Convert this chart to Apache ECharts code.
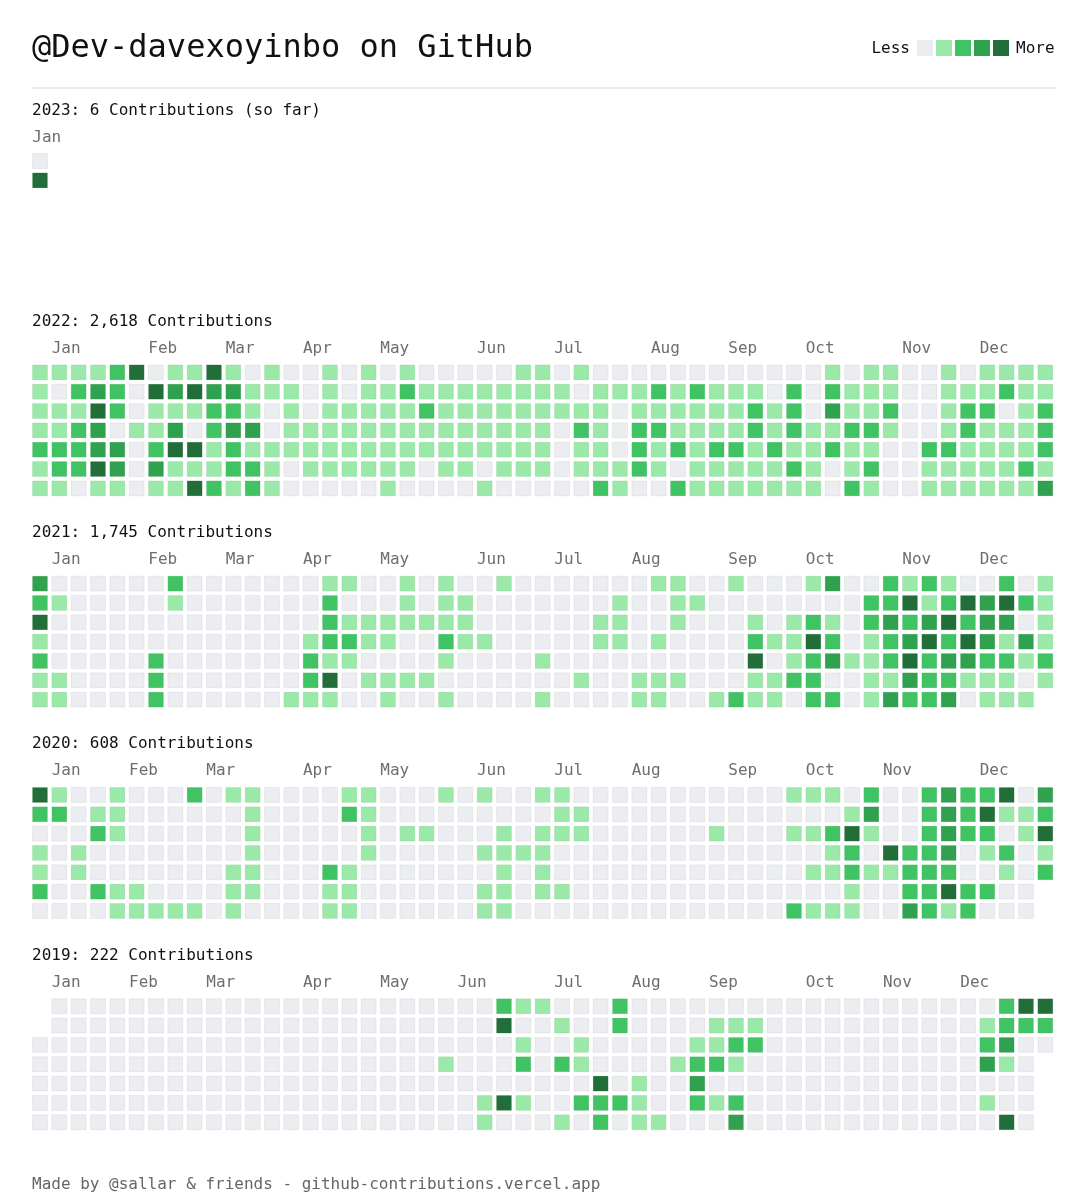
<!DOCTYPE html>
<html>
<head>
<meta charset="utf-8">
<title>@Dev-davexoyinbo on GitHub</title>
<script src="https://cdn.jsdelivr.net/npm/echarts@6/dist/echarts.min.js"></script>
<style>
  html, body { margin: 0; padding: 0; background: #fff; }
  #chart { width: 1089px; height: 1200px; }
</style>
</head>
<body>
<div id="chart"></div>
<script>
var userName = '@Dev-davexoyinbo';
var years = ['2023', '2022', '2021', '2020', '2019'];
var yearTotals = ['6 Contributions (so far)', '2,618 Contributions', '1,745 Contributions', '608 Contributions', '222 Contributions'];
var monthNames = ['Jan', 'Feb', 'Mar', 'Apr', 'May', 'Jun', 'Jul', 'Aug', 'Sep', 'Oct', 'Nov', 'Dec'];

// week column where each month label starts
var monthCols2023 = [0];
var monthCols2022 = [1, 6, 10, 14, 18, 23, 27, 32, 36, 40, 45, 49];
var monthCols2021 = [1, 6, 10, 14, 18, 23, 27, 31, 36, 40, 45, 49];
var monthCols2020 = [1, 5, 9, 14, 18, 23, 27, 31, 36, 40, 44, 49];
var monthCols2019 = [1, 5, 9, 14, 18, 22, 27, 31, 35, 40, 44, 48];

// contribution level per day: one string per weekday row (Sun..Sat),
// one char per week column, '-' = no day drawn
var levels2023 = ['0', '4', '-', '-', '-', '-', '-'];
var levels2022 = [
    '11112401141010010101000001' + '101000000000000101100101111',
    '10232043433111010112111111' + '110111212111020211100111211',
    '11142011122101011111211111' + '111101111112120311200122012',
    '11230113023301111111111111' + '102102211112121122100121112',
    '22233024412111111111111111' + '101102121221211211002211112',
    '12243031112210111111011011' + '101112101111121012001111121',
    '11011011421210000010000100' + '000210021111111021001111113'
];
var levels2021 = [
    '30000002000000011001010010' + '000000110010001300212100201',
    '21000001000000020001011000' + '000010011000000002241243421',
    '40000000000000021111111000' + '000110010001012102323423301',
    '10000000000000122110021100' + '000110100002114201234243131',
    '20000020000000211000010000' + '100000000004012311242332212',
    '11000020000000240111100000' + '001001110001122001132211101',
    '11000020000001110010010000' + '10000110012110220132230111-'
];
var levels2020 = [
    '41001000201100001100010100' + '110000000000011102002322403',
    '22011000000100002100000000' + '011000000000000013002324112',
    '00021000000100000101100010' + '111000000100011241002322014',
    '10100000000100000100000111' + '100000000000000120422301201',
    '10100000001100021000000010' + '100000000000001121122200102',
    '20021100001100011000000110' + '11000000000000001002242200-',
    '00001111101000011000000110' + '00000000000002111003212000-'
];
var levels2019 = [
    '-0000000000000000000000021' + '100020000000000000000000244',
    '-0000000000000000000000040' + '010020000111000000000001222',
    '00000000000000000000000001' + '001000001122000000000002300',
    '00000000000000000000010002' + '02100001221000000000000310-',
    '00000000000000000000000000' + '00040100300000000000000000-',
    '00000000000000000000000141' + '00222100212000000000000100-',
    '00000000000000000000000100' + '01020110003000000000000040-'
];

var levelColors = ['#ebedf0', '#9be9a8', '#40c463', '#30a14e', '#216e39'];

var allLevels = [levels2023, levels2022, levels2021, levels2020, levels2019];
var allMonthCols = [monthCols2023, monthCols2022, monthCols2021, monthCols2020, monthCols2019];

var FONT = '"DejaVu Sans Mono", "Liberation Mono", monospace';
var WEEKS = 53;
var COL = 19.333;
var GRID_LEFT = 30.33;
var FIRST_TOP = 151.4;
var YEAR_STEP = 211.3;

function cellsOf(rows) {
    var out = [];
    rows.forEach(function(row, r) {
        for (var c = 0; c < row.length; c++) {
            var ch = row.charAt(c);
            if (ch === '-') continue;
            out.push([c + 0.5, r + 0.5, +ch]);
        }
    });
    return out;
}

var grids = [], xAxes = [], yAxes = [], series = [], graphics = [];

graphics.push({
    type: 'text', left: 32, top: 33,
    style: { text: userName + ' on GitHub', font: '32px ' + FONT, fill: '#111' }
});
graphics.push({
    type: 'line', shape: { x1: 32, y1: 88, x2: 1056, y2: 88 },
    style: { stroke: '#ececec', lineWidth: 2 }
});
// legend end words, either side of the visualMap squares
graphics.push({
    type: 'text', x: 910, y: 49,
    style: { text: 'Less', font: '16px ' + FONT, fill: '#111', align: 'right', verticalAlign: 'middle' }
});
graphics.push({
    type: 'text', x: 1016, y: 49,
    style: { text: 'More', font: '16px ' + FONT, fill: '#111', align: 'left', verticalAlign: 'middle' }
});

years.forEach(function(year, i) {
    var top = FIRST_TOP + YEAR_STEP * i;
    var labelAt = {};
    allMonthCols[i].forEach(function(c, m) { labelAt[c] = monthNames[m]; });

    grids.push({
        left: GRID_LEFT, top: top, width: COL * WEEKS, height: COL * 7,
        outerBoundsMode: 'none'
    });
    xAxes.push({
        type: 'value', gridIndex: i, position: 'top',
        min: 0, max: WEEKS, interval: 1,
        axisLine: { show: false }, axisTick: { show: false }, splitLine: { show: false },
        axisLabel: {
            show: true, margin: 6, align: 'left', padding: [0, 0, 0, 2],
            color: '#6e6e6e', fontFamily: FONT, fontSize: 16,
            formatter: function(v) { return labelAt[v] || ''; }
        }
    });
    yAxes.push({
        type: 'value', gridIndex: i, min: 0, max: 7, inverse: true, show: false
    });
    series.push({
        type: 'scatter', name: year,
        xAxisIndex: i, yAxisIndex: i,
        symbol: 'rect', symbolSize: 15,
        itemStyle: { borderColor: 'rgba(27,31,35,0.06)', borderWidth: 1, opacity: 1 },
        emphasis: { disabled: true },
        silent: true,
        data: cellsOf(allLevels[i])
    });
    graphics.push({
        type: 'text', left: 32, top: top - 49,
        style: { text: year + ': ' + yearTotals[i], font: '16px ' + FONT, fill: '#111' }
    });
});

graphics.push({
    type: 'text', left: 32, top: 1177,
    style: { text: 'Made by @sallar & friends - github-contributions.vercel.app', font: '16px ' + FONT, fill: '#666' }
});

var chart = echarts.init(document.getElementById('chart'), null, { renderer: 'canvas' });
chart.setOption({
    backgroundColor: '#fff',
    animation: false,
    grid: grids,
    xAxis: xAxes,
    yAxis: yAxes,
    visualMap: {
        type: 'piecewise',
        seriesIndex: [0, 1, 2, 3, 4],
        dimension: 2,
        orient: 'horizontal',
        right: 80, top: 40, padding: 0,
        itemWidth: 16, itemHeight: 16, itemGap: 3,
        itemSymbol: 'rect',
        showLabel: false,
        selectedMode: false,
        pieces: levelColors.map(function(col, lv) { return { value: lv, color: col }; })
    },
    graphic: graphics,
    series: series
});
</script>
</body>
</html>
